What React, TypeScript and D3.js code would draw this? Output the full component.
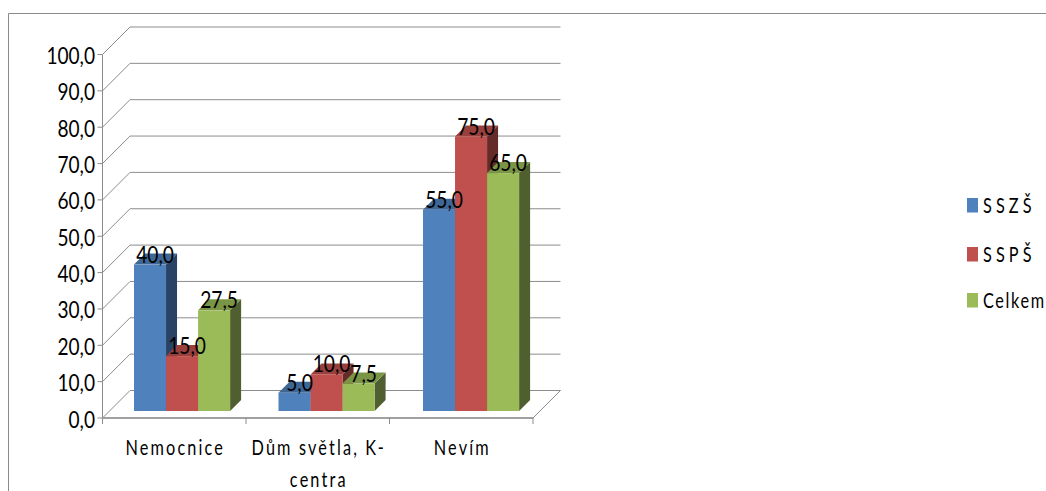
import React from "react";
import * as d3 from "d3";

// Survey shares by answer and school type, in percent
const categories = ["Nemocnice", "Dům světla, K-centra", "Nevím"];
const categoryLines = [["Nemocnice"], ["Dům světla, K-", "centra"], ["Nevím"]];
const seriesNames = ["SSZŠ", "SSPŠ", "Celkem"];
const sszs = [40, 5, 55];
const ssps = [15, 10, 75];
const celkem = [27.5, 7.5, 65];
const seriesValues = [sszs, ssps, celkem];
const yTicks = [0, 10, 20, 30, 40, 50, 60, 70, 80, 90, 100];

const frontColors = ["#4F81BD", "#C0504D", "#9BBB59"];
const topColors = ["#3E6796", "#98403D", "#7B9546"];
const sideColors = ["#2A4365", "#652B29", "#505F2F"];

const W = 1046;
const H = 491;
const axisX = 102.5;
const plotRight = 533;
const floorY = 418;
const wallDepth = 27.5;
const barDepth = 11;
const gridColor = "#8C8C8C";
const frameColor = "#8A8A8A";

const fmt = (v: number) => v.toFixed(1).replace(".", ",");

const yWall = d3.scaleLinear().domain([0, 100]).range([floorY, 54.5]);
const yBar = d3.scaleLinear().domain([0, 100]).range([411, 45]);
const xGroup = d3
  .scaleBand<string>()
  .domain(categories)
  .range([axisX + 7.3, axisX + 7.3 + 433.5])
  .paddingInner(0.335)
  .paddingOuter(0.1675);
const xSeries = d3
  .scaleBand<string>()
  .domain(seriesNames)
  .range([0, xGroup.bandwidth()]);

const FONT = "Lato, 'Noto Sans', sans-serif";

function SquishedText(props: {
  x: number;
  y: number;
  size: number;
  sx: number;
  anchor: "start" | "middle" | "end";
  spacing?: number;
  children: string;
}) {
  const { x, y, size, sx, anchor, spacing, children } = props;
  return (
    <text
      transform={`translate(${x},${y}) scale(${sx},1)`}
      fontFamily={FONT}
      fontSize={size}
      textAnchor={anchor}
      letterSpacing={spacing ?? 0}
      fill="#000"
    >
      {children}
    </text>
  );
}

export default function App() {
  const line = d3.line();
  const xTicks = d3.range(categories.length + 1).map(
    (i) => axisX + (i * (plotRight - axisX)) / categories.length
  );

  return (
    <svg
      width={W}
      height={H}
      style={{ position: "absolute", left: 0, top: 0, background: "#fff" }}
    >
      {/* outer chart frame */}
      <path d={`M8.5,${H} V13.5 H${W}`} fill="none" stroke={frameColor} strokeWidth={1} />

      {/* back wall and side wall grid */}
      {yTicks.map((t) => {
        const y = yWall(t);
        return (
          <g key={t} fill="none" stroke={gridColor} strokeWidth={1}>
            <path
              d={
                line([
                  [axisX, y],
                  [axisX + wallDepth, y - wallDepth],
                  [plotRight + wallDepth, y - wallDepth],
                ])!
              }
            />
            <path d={line([[axisX - 5, y], [axisX, y]])!} />
          </g>
        );
      })}
      <path
        d={line([
          [axisX, yWall(100)],
          [axisX, floorY],
        ])!}
        stroke={gridColor}
        fill="none"
      />

      {/* floor edges and category ticks */}
      <path
        d={line([
          [plotRight, floorY],
          [plotRight + wallDepth, floorY - wallDepth],
        ])!}
        stroke={gridColor}
        fill="none"
      />
      <path
        d={line([
          [axisX, floorY],
          [plotRight, floorY],
        ])!}
        stroke="#A0A0A0"
        strokeWidth={2}
        fill="none"
      />
      {xTicks.map((x) => (
        <path
          key={x}
          d={line([
            [x, floorY],
            [x, floorY + 6],
          ])!}
          stroke={gridColor}
          fill="none"
        />
      ))}

      {/* value axis labels */}
      {yTicks.map((t) => (
        <SquishedText key={t} x={95} y={yWall(t) + 9.5} size={23} sx={0.83} anchor="end">
          {fmt(t)}
        </SquishedText>
      ))}

      {/* bars with their top and side faces */}
      {categories.map((c, ci) =>
        seriesNames.map((s, si) => {
          const v = seriesValues[si][ci];
          const x0 = xGroup(c)! + xSeries(s)!;
          const x1 = x0 + xSeries.bandwidth();
          const yTop = yBar(v);
          const yBase = yBar(0);
          const d = barDepth;
          return (
            <g key={s + c}>
              <path
                d={`M${x1},${yTop}L${x1 + d},${yTop - d}V${yBase - d}L${x1},${yBase}Z`}
                fill={sideColors[si]}
              />
              <path
                d={`M${x0},${yTop}L${x0 + d},${yTop - d}H${x1 + d}L${x1},${yTop}Z`}
                fill={topColors[si]}
              />
              <rect
                x={x0}
                y={yTop}
                width={x1 - x0}
                height={yBase - yTop}
                fill={frontColors[si]}
              />
            </g>
          );
        })
      )}

      {/* value labels sit above the bars, in front of everything */}
      {categories.map((c, ci) =>
        seriesNames.map((s, si) => {
          const v = seriesValues[si][ci];
          const cx = xGroup(c)! + xSeries(s)! + xSeries.bandwidth() / 2 + 5;
          return (
            <SquishedText key={s + c} x={cx} y={yBar(v) - 2} size={24} sx={0.8} anchor="middle">
              {fmt(v)}
            </SquishedText>
          );
        })
      )}

      {/* category labels */}
      {categories.map((c, ci) => {
        const cx = (xTicks[ci] + xTicks[ci + 1]) / 2 + 1;
        return categoryLines[ci].map((l, li) => (
          <SquishedText key={l} x={cx} y={455 + li * 31.5} size={22} sx={0.74} anchor="middle" spacing={2.9}>
            {l}
          </SquishedText>
        ));
      })}

      {/* legend */}
      {seriesNames.map((s, i) => {
        const y = [198, 247, 293][i];
        return (
          <g key={s}>
            <rect x={967} y={y} width={11} height={14.5} fill={frontColors[i]} />
            <SquishedText x={983} y={y + 15} size={22} sx={0.74} anchor="start" spacing={i < 2 ? 5.5 : 2.2}>
              {s}
            </SquishedText>
          </g>
        );
      })}
    </svg>
  );
}
